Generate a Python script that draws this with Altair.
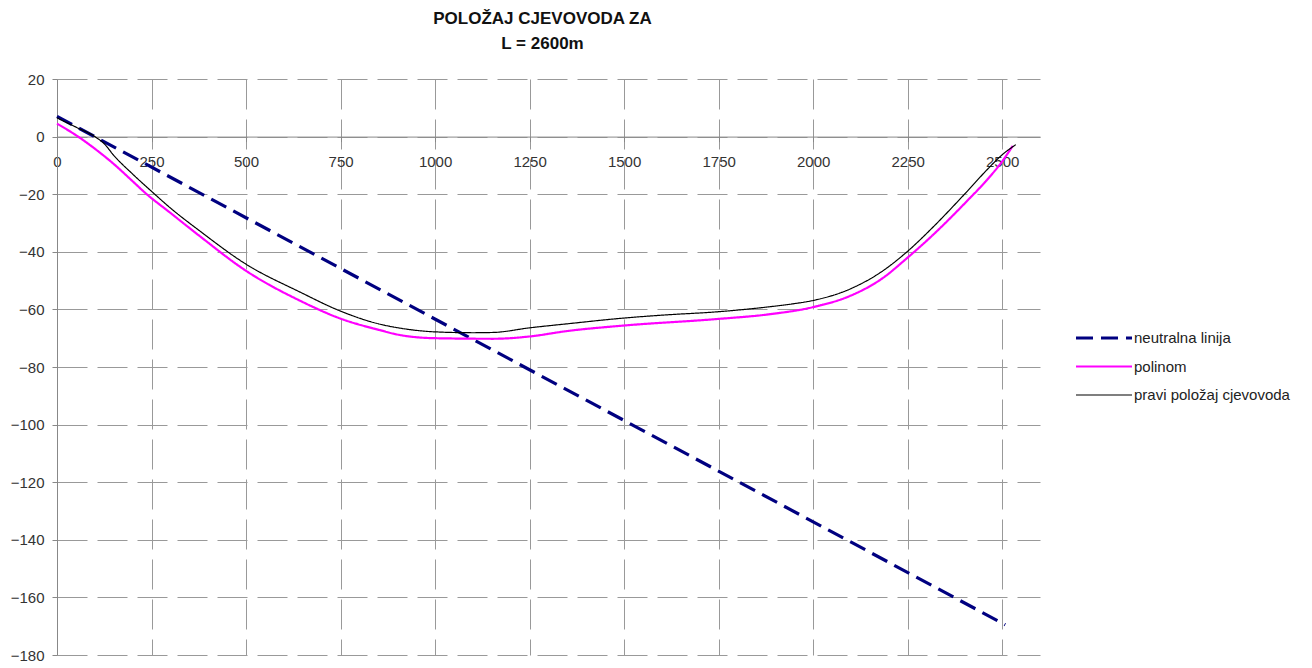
import altair as alt
import pandas as pd

# ---- data ----
series_names = ["neutralna linija", "polinom", "pravi položaj cjevovoda"]

x_neutral = [0, 2508]
y_neutral = [7.0, -169.5]

x_polinom = [0, 50, 100, 150, 200, 233, 300, 378, 500, 643, 750, 854, 907, 1000,
             1154, 1250, 1350, 1500, 1750, 1877, 2000, 2098, 2180, 2250, 2318,
             2406, 2460, 2500, 2528]
y_polinom = [4.5, 0.5, -4.2, -9.5, -15.5, -19.5, -26.5, -34.6, -46.6, -57.0, -63.2,
             -67.2, -68.9, -70.0, -70.2, -69.4, -67.5, -65.6, -63.3, -61.8, -59.2,
             -55.3, -49.5, -42.0, -34.0, -22.5, -15.0, -8.6, -3.2]

x_pravi = [0, 50, 100, 125, 150, 200, 250, 300, 378, 500, 643, 750, 850, 907, 1000,
           1100, 1154, 1250, 1350, 1500, 1600, 1750, 1877, 1950, 2000, 2098, 2180,
           2250, 2318, 2406, 2460, 2500, 2536]
y_pravi = [6.5, 3.3, 0.0, -2.5, -6.5, -13.0, -19.0, -24.8, -32.8, -44.3, -54.0,
           -60.6, -65.0, -66.5, -67.8, -68.1, -68.0, -66.4, -65.0, -63.0, -62.0,
           -60.8, -59.2, -58.0, -56.9, -52.9, -47.0, -39.8, -31.3, -19.2, -11.5,
           -6.3, -2.8]

x_ticks = [0, 250, 500, 750, 1000, 1250, 1500, 1750, 2000, 2250, 2500]
y_ticks = [20, 0, -20, -40, -60, -80, -100, -120, -140, -160, -180]

rows = []
for name, xs, ys in [(series_names[0], x_neutral, y_neutral),
                     (series_names[1], x_polinom, y_polinom),
                     (series_names[2], x_pravi, y_pravi)]:
    for i, (xv, yv) in enumerate(zip(xs, ys)):
        rows.append({"serija": name, "x": xv, "y": yv, "ord": i})
df = pd.DataFrame(rows)

FONT = "Liberation Sans"
PLOT_W = 983
PLOT_H = 576
zero_offset = -(PLOT_H - PLOT_H * 20 / 200)


def leg():
    return alt.Legend(title=None, orient="none", legendX=1031, legendY=243,
                      symbolType="M-2,0H2", symbolSize=784, labelFontSize=15,
                      labelFont=FONT, labelColor="#222222", labelOffset=14,
                      rowPadding=5)


chart = alt.Chart(df).mark_line(interpolate="monotone").encode(
    x=alt.X("x:Q",
            scale=alt.Scale(domain=[0, 2600], nice=False, zero=False),
            axis=alt.Axis(values=x_ticks, offset=zero_offset, orient="bottom",
                          title=None, grid=True, gridDash=[30, 10], format="d",
                          gridColor="#999999", gridWidth=1,
                          domainColor="#888888", tickColor="#888888",
                          tickSize=5, labelPadding=13, labelFlush=False,
                          labelFontSize=15, labelFont=FONT, labelColor="#333333",
                          labelOverlap=False)),
    y=alt.Y("y:Q",
            scale=alt.Scale(domain=[-180, 20], nice=False, zero=False),
            axis=alt.Axis(values=y_ticks, title=None, grid=True, gridDash=[30, 10],
                          format="d", gridColor="#999999", gridWidth=1,
                          domainColor="#888888", tickColor="#888888",
                          tickSize=5, labelPadding=8, labelFlush=False,
                          labelFontSize=15, labelFont=FONT, labelColor="#333333",
                          labelOverlap=False)),
    color=alt.Color("serija:N",
                    scale=alt.Scale(domain=series_names,
                                    range=["#000080", "#ff00ff", "#000000"]),
                    legend=leg()),
    strokeDash=alt.StrokeDash("serija:N",
                              scale=alt.Scale(domain=series_names,
                                              range=[[17, 8], [1, 0], [1, 0]]),
                              legend=leg()),
    strokeWidth=alt.StrokeWidth("serija:N",
                                scale=alt.Scale(domain=series_names,
                                                range=[3.2, 1.2, 1.3]),
                                legend=leg()),
    order="ord:Q",
).properties(
    width=PLOT_W,
    height=PLOT_H,
    title=alt.TitleParams(["POLOŽAJ CJEVOVODA ZA", "L = 2600m"], fontSize=17,
                          fontWeight="bold", font=FONT, color="#111111",
                          lineHeight=25, anchor="middle", dx=-6, offset=19),
    autosize=alt.AutoSizeParams(type="none"),
    padding={"left": 49, "top": 71, "right": 264, "bottom": 14},
).configure_view(strokeWidth=0)

chart.save("out.html", embed_options={"renderer": "svg", "actions": False})
